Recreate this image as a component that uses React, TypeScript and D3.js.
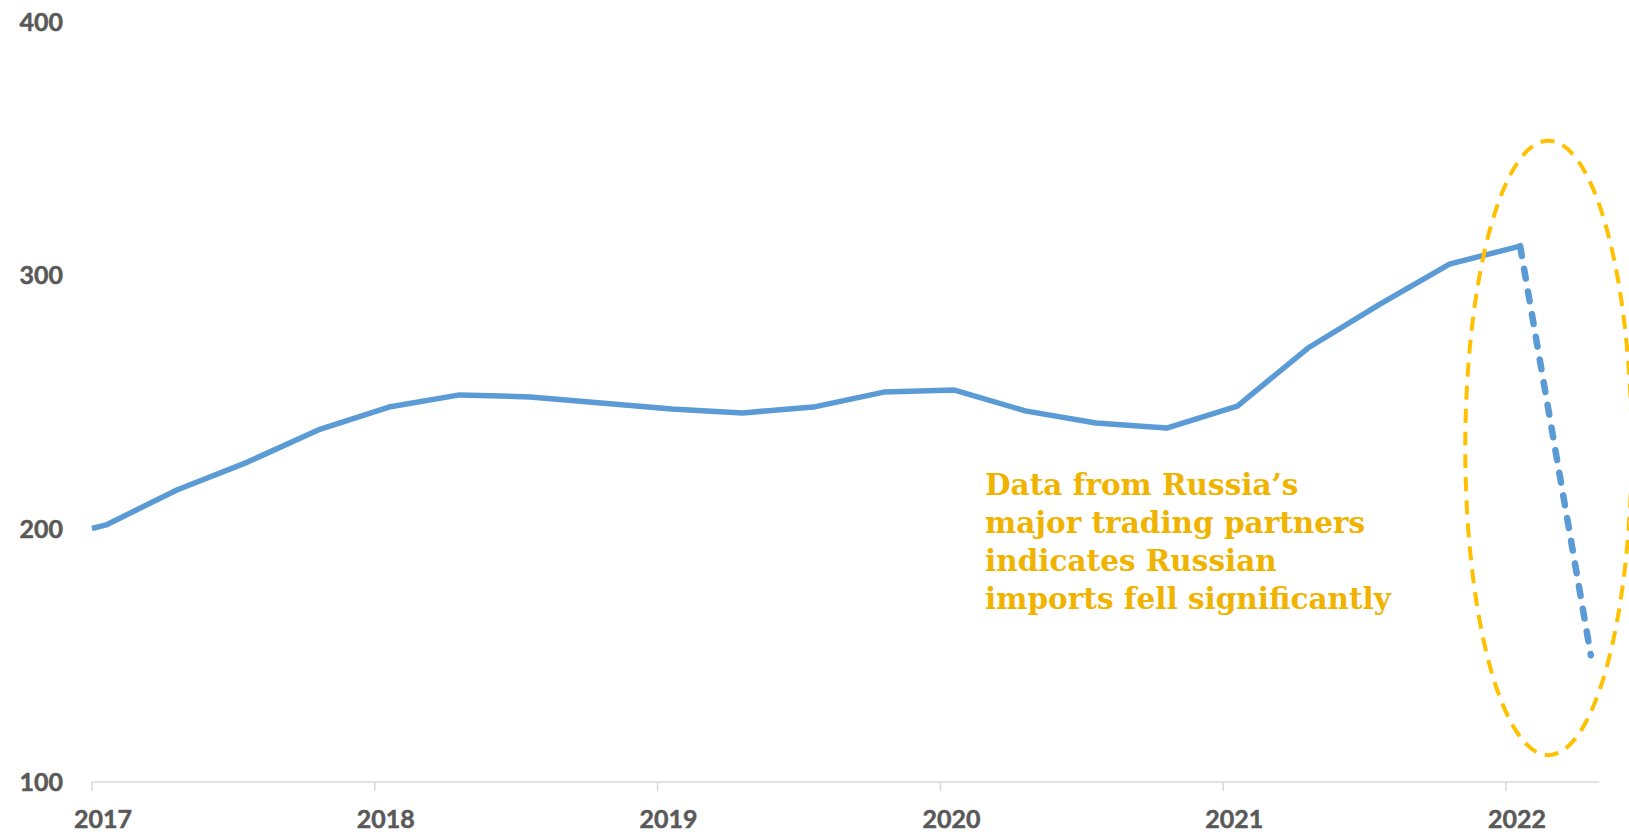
import React from "react";
import * as d3 from "d3";

// ---- data ----
const startYear = 2017.0;
const startValue = 200;
const quarters = [
  "2017 Q1", "2017 Q2", "2017 Q3", "2017 Q4",
  "2018 Q1", "2018 Q2", "2018 Q3", "2018 Q4",
  "2019 Q1", "2019 Q2", "2019 Q3", "2019 Q4",
  "2020 Q1", "2020 Q2", "2020 Q3", "2020 Q4",
  "2021 Q1", "2021 Q2", "2021 Q3", "2021 Q4",
  "2022 Q1",
];
const importValues = [
  201.4, 215.2, 226.2, 238.9,
  247.9, 252.7, 251.9, 249.5,
  247.1, 245.6, 247.9, 253.8,
  254.6, 246.4, 241.6, 239.6,
  248.3, 271.2, 288.2, 304.3,
  311.4,
];
const estimatedQuarter = "2022 Q2";
const estimatedValue = 150;

const yTicks = [100, 200, 300, 400];
const xTicks = [2017, 2018, 2019, 2020, 2021, 2022];

const annotationLines = [
  "Data from Russia\u2019s",
  "major trading partners",
  "indicates Russian",
  "imports fell significantly",
];

// annotation ellipse, in data units
const ellipseCenterYear = 2022.15;
const ellipseTopValue = 353;
const ellipseBottomValue = 110.6;
const ellipseHalfWidthYears = 0.294;

// ---- helpers ----
const quarterToYear = (q: string) => {
  const [y, qq] = q.split(" Q");
  return +y + (+qq - 1) * 0.25 + 0.05;
};

export default function App() {
  const W = 1629;
  const H = 832;

  const x = d3.scaleLinear().domain([2017, 2022]).range([92, 1506]);
  const y = d3.scaleLinear().domain([100, 400]).range([782, 21.5]);

  const solid: [number, number][] = [
    [startYear, startValue],
    ...quarters.map((q, i) => [quarterToYear(q), importValues[i]] as [number, number]),
  ];
  const dashed: [number, number][] = [
    [quarterToYear(quarters[quarters.length - 1]), importValues[importValues.length - 1]],
    [quarterToYear(estimatedQuarter), estimatedValue],
  ];

  const line = d3
    .line<[number, number]>()
    .x((d) => x(d[0]))
    .y((d) => y(d[1]));

  const axisEnd = x(2022.33);
  const labelFont = "Lato, 'Open Sans', sans-serif";
  const gray = "#595959";

  const ecx = x(ellipseCenterYear);
  const ecy = (y(ellipseTopValue) + y(ellipseBottomValue)) / 2;
  const ery = (y(ellipseBottomValue) - y(ellipseTopValue)) / 2;
  const erx = x(2017 + ellipseHalfWidthYears) - x(2017);

  return (
    <svg
      width={W}
      height={H}
      style={{ position: "absolute", left: 0, top: 0, display: "block", background: "#fff" }}
    >
      {/* x axis */}
      <line x1={x(2017)} x2={axisEnd} y1={y(100)} y2={y(100)} stroke="#d9d9d9" strokeWidth={1.5} />
      {xTicks.map((t) => (
        <g key={t}>
          <line x1={x(t)} x2={x(t)} y1={y(100)} y2={y(100) + 9} stroke="#d9d9d9" strokeWidth={1.5} />
          <text
            x={x(t) + 11}
            y={828}
            textAnchor="middle"
            fontFamily={labelFont}
            fontWeight={700}
            fontSize={25}
            fill={gray}
            stroke={gray}
            strokeWidth={0.5}
          >
            {t}
          </text>
        </g>
      ))}

      {/* y labels */}
      {yTicks.map((t) => (
        <text
          key={t}
          x={63}
          y={y(t)}
          dy="0.36em"
          textAnchor="end"
          fontFamily={labelFont}
          fontWeight={700}
          fontSize={25}
          fill={gray}
          stroke={gray}
          strokeWidth={0.5}
        >
          {t}
        </text>
      ))}

      {/* data line */}
      <path
        d={line(solid) || ""}
        fill="none"
        stroke="#5B9BD5"
        strokeWidth={5.5}
        strokeLinejoin="round"
      />
      <path
        d={line(dashed) || ""}
        fill="none"
        stroke="#5B9BD5"
        strokeWidth={6.5}
        strokeLinecap="round"
        strokeDasharray="10 13"
      />

      {/* ellipse */}
      <ellipse
        cx={ecx}
        cy={ecy}
        rx={erx}
        ry={ery}
        fill="none"
        stroke="#FFC000"
        strokeWidth={4}
        strokeDasharray="14 9"
      />

      {/* annotation */}
      <text
        x={985}
        y={495}
        fontFamily="'DejaVu Serif', serif"
        fontWeight={700}
        fontSize={29.5}
        fill="#F0B400"
      >
        {annotationLines.map((l, i) => (
          <tspan key={i} x={985} dy={i === 0 ? 0 : 38}>
            {l}
          </tspan>
        ))}
      </text>
    </svg>
  );
}
